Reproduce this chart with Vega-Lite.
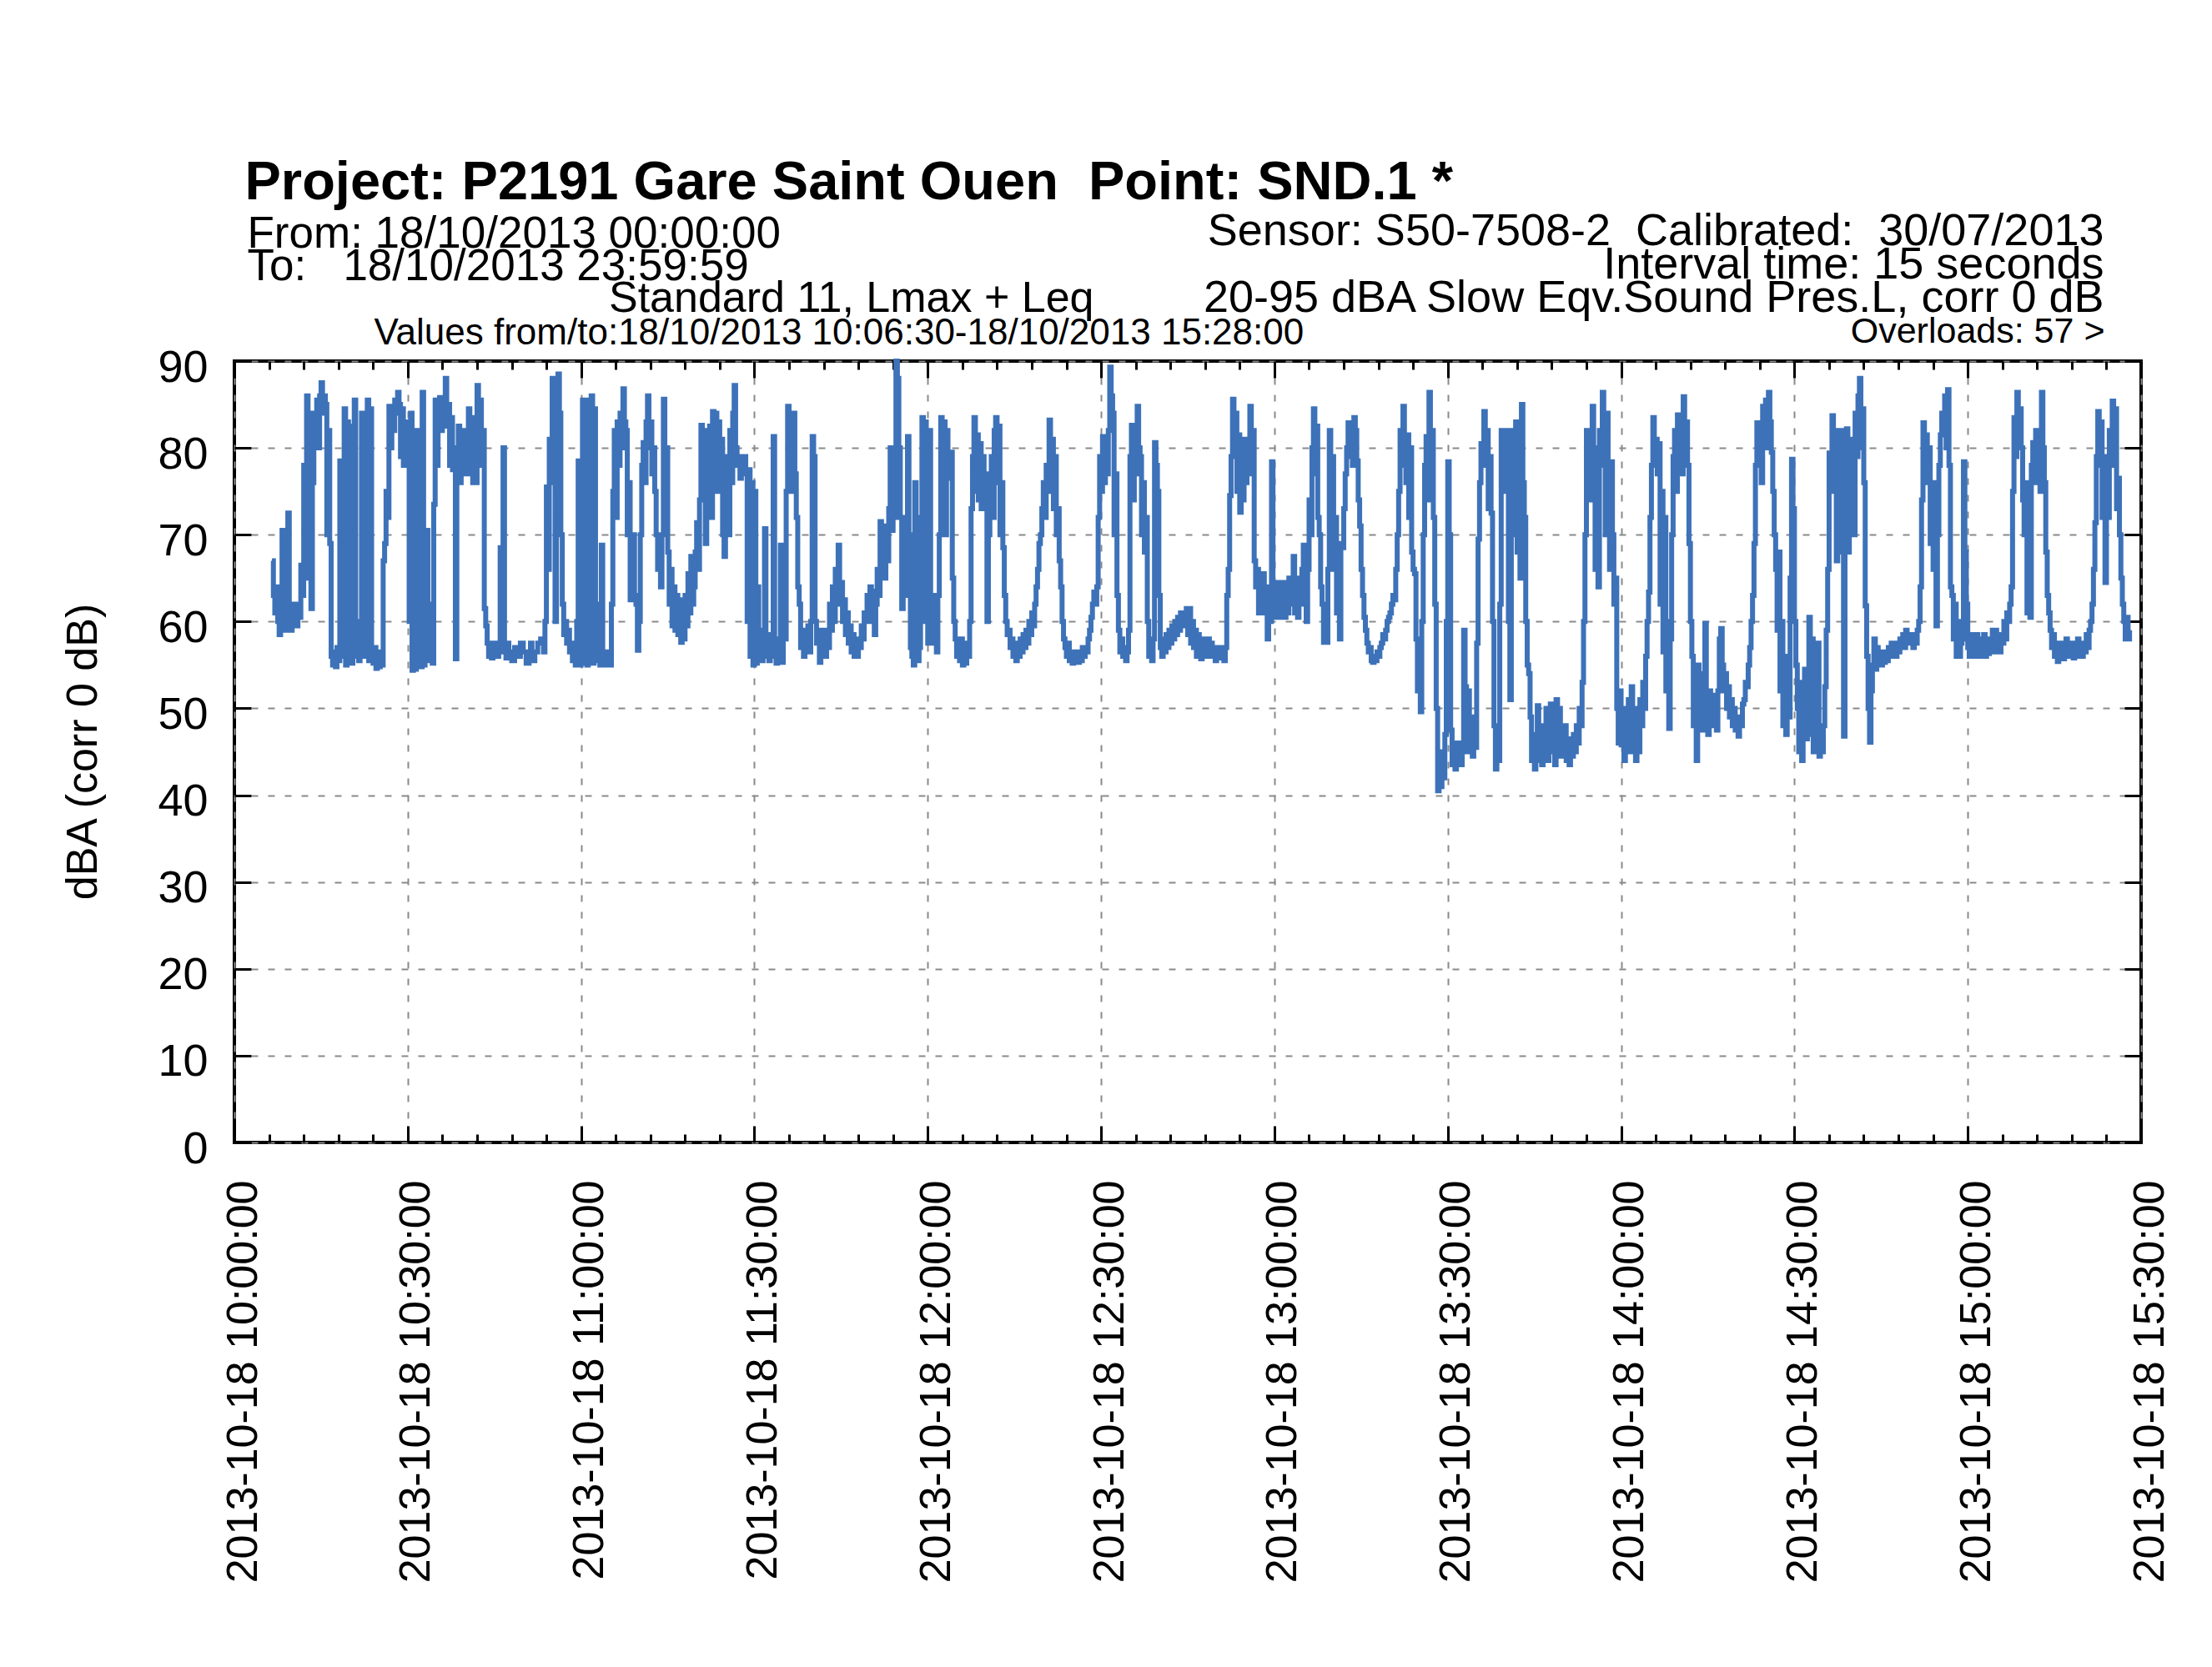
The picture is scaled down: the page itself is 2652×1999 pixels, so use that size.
{
"$schema":"https://vega.github.io/schema/vega-lite/v6.json",
"width":2286,"height":937,
"autosize":{"type":"none"},
"padding":{"left":281,"top":433,"right":85,"bottom":629},
"background":"white",
"config":{"font":"Liberation Sans","view":{"stroke":"#000","strokeWidth":4},
"axis":{"labelColor":"#000","titleColor":"#000","tickColor":"#000","tickWidth":3,"labelLimit":4000,"titleLimit":4000,"titleFont":"Liberation Sans","labelFont":"Liberation Sans","titleFontWeight":"normal"}},
"resolve":{"scale":{"x":"independent","y":"independent"},"axis":{"x":"independent","y":"independent"}},
"layer":[
{"data":{"values":[
{"t":"2013-10-18T10:06:30","v":67},{"t":"2013-10-18T10:06:45","v":63},{"t":"2013-10-18T10:07:00","v":61},{"t":"2013-10-18T10:07:15","v":64},{"t":"2013-10-18T10:07:30","v":60},{"t":"2013-10-18T10:07:45","v":58.5},{"t":"2013-10-18T10:08:00","v":62},{"t":"2013-10-18T10:08:15","v":70.5},{"t":"2013-10-18T10:08:30","v":60},{"t":"2013-10-18T10:08:45","v":59},{"t":"2013-10-18T10:09:00","v":63},{"t":"2013-10-18T10:09:15","v":72.5},{"t":"2013-10-18T10:09:30","v":61},{"t":"2013-10-18T10:09:45","v":59},{"t":"2013-10-18T10:10:00","v":62},{"t":"2013-10-18T10:10:15","v":60},{"t":"2013-10-18T10:10:30","v":61.5},{"t":"2013-10-18T10:10:45","v":59.5},{"t":"2013-10-18T10:11:00","v":62},{"t":"2013-10-18T10:11:15","v":60.5},{"t":"2013-10-18T10:11:30","v":66.5},{"t":"2013-10-18T10:11:45","v":63},{"t":"2013-10-18T10:12:00","v":78},{"t":"2013-10-18T10:12:15","v":65},{"t":"2013-10-18T10:12:30","v":86},{"t":"2013-10-18T10:12:45","v":79},{"t":"2013-10-18T10:13:00","v":84},{"t":"2013-10-18T10:13:15","v":61.5},{"t":"2013-10-18T10:13:30","v":76},{"t":"2013-10-18T10:13:45","v":84},{"t":"2013-10-18T10:14:00","v":82},{"t":"2013-10-18T10:14:15","v":85.5},{"t":"2013-10-18T10:14:30","v":80},{"t":"2013-10-18T10:14:45","v":86},{"t":"2013-10-18T10:15:00","v":87.5},{"t":"2013-10-18T10:15:15","v":84},{"t":"2013-10-18T10:15:30","v":86},{"t":"2013-10-18T10:15:45","v":85},{"t":"2013-10-18T10:16:00","v":70},{"t":"2013-10-18T10:16:15","v":82},{"t":"2013-10-18T10:16:30","v":69},{"t":"2013-10-18T10:16:45","v":56},{"t":"2013-10-18T10:17:00","v":55},{"t":"2013-10-18T10:17:15","v":56.5},{"t":"2013-10-18T10:17:30","v":54.8},{"t":"2013-10-18T10:17:45","v":57},{"t":"2013-10-18T10:18:00","v":55.5},{"t":"2013-10-18T10:18:15","v":78.5},{"t":"2013-10-18T10:18:30","v":56},{"t":"2013-10-18T10:18:45","v":61},{"t":"2013-10-18T10:19:00","v":84.5},{"t":"2013-10-18T10:19:15","v":55},{"t":"2013-10-18T10:19:30","v":83},{"t":"2013-10-18T10:19:45","v":56.5},{"t":"2013-10-18T10:20:00","v":82.5},{"t":"2013-10-18T10:20:15","v":55.2},{"t":"2013-10-18T10:20:30","v":59},{"t":"2013-10-18T10:20:45","v":85.5},{"t":"2013-10-18T10:21:00","v":60},{"t":"2013-10-18T10:21:15","v":56},{"t":"2013-10-18T10:21:30","v":55.5},{"t":"2013-10-18T10:21:45","v":57},{"t":"2013-10-18T10:22:00","v":84},{"t":"2013-10-18T10:22:15","v":56},{"t":"2013-10-18T10:22:30","v":83.5},{"t":"2013-10-18T10:22:45","v":58},{"t":"2013-10-18T10:23:00","v":85.5},{"t":"2013-10-18T10:23:15","v":55.5},{"t":"2013-10-18T10:23:30","v":84.5},{"t":"2013-10-18T10:23:45","v":56},{"t":"2013-10-18T10:24:00","v":55.2},{"t":"2013-10-18T10:24:15","v":57},{"t":"2013-10-18T10:24:30","v":54.6},{"t":"2013-10-18T10:24:45","v":56},{"t":"2013-10-18T10:25:00","v":54.8},{"t":"2013-10-18T10:25:15","v":56.5},{"t":"2013-10-18T10:25:30","v":55},{"t":"2013-10-18T10:25:45","v":67},{"t":"2013-10-18T10:26:00","v":69},{"t":"2013-10-18T10:26:15","v":75},{"t":"2013-10-18T10:26:30","v":72},{"t":"2013-10-18T10:26:45","v":84.8},{"t":"2013-10-18T10:27:00","v":80},{"t":"2013-10-18T10:27:15","v":84.5},{"t":"2013-10-18T10:27:30","v":82},{"t":"2013-10-18T10:27:45","v":85.5},{"t":"2013-10-18T10:28:00","v":84},{"t":"2013-10-18T10:28:15","v":86.4},{"t":"2013-10-18T10:28:30","v":85},{"t":"2013-10-18T10:28:45","v":79},{"t":"2013-10-18T10:29:00","v":84.5},{"t":"2013-10-18T10:29:15","v":78},{"t":"2013-10-18T10:29:30","v":83},{"t":"2013-10-18T10:29:45","v":78.5},{"t":"2013-10-18T10:30:00","v":79},{"t":"2013-10-18T10:30:15","v":60},{"t":"2013-10-18T10:30:30","v":84},{"t":"2013-10-18T10:30:45","v":54.4},{"t":"2013-10-18T10:31:00","v":56},{"t":"2013-10-18T10:31:15","v":54.5},{"t":"2013-10-18T10:31:30","v":82},{"t":"2013-10-18T10:31:45","v":55.5},{"t":"2013-10-18T10:32:00","v":56.5},{"t":"2013-10-18T10:32:15","v":54.8},{"t":"2013-10-18T10:32:30","v":86.4},{"t":"2013-10-18T10:32:45","v":55},{"t":"2013-10-18T10:33:00","v":57},{"t":"2013-10-18T10:33:15","v":70.5},{"t":"2013-10-18T10:33:30","v":55.5},{"t":"2013-10-18T10:33:45","v":62},{"t":"2013-10-18T10:34:00","v":59.5},{"t":"2013-10-18T10:34:15","v":55.2},{"t":"2013-10-18T10:34:30","v":73.5},{"t":"2013-10-18T10:34:45","v":85.5},{"t":"2013-10-18T10:35:00","v":78},{"t":"2013-10-18T10:35:15","v":84.5},{"t":"2013-10-18T10:35:30","v":85.8},{"t":"2013-10-18T10:35:45","v":82},{"t":"2013-10-18T10:36:00","v":85},{"t":"2013-10-18T10:36:15","v":82.5},{"t":"2013-10-18T10:36:30","v":88},{"t":"2013-10-18T10:36:45","v":84},{"t":"2013-10-18T10:37:00","v":85},{"t":"2013-10-18T10:37:15","v":78},{"t":"2013-10-18T10:37:30","v":83.5},{"t":"2013-10-18T10:37:45","v":77.5},{"t":"2013-10-18T10:38:00","v":80},{"t":"2013-10-18T10:38:15","v":55.7},{"t":"2013-10-18T10:38:30","v":77},{"t":"2013-10-18T10:38:45","v":82.5},{"t":"2013-10-18T10:39:00","v":76},{"t":"2013-10-18T10:39:15","v":80.5},{"t":"2013-10-18T10:39:30","v":78},{"t":"2013-10-18T10:39:45","v":82},{"t":"2013-10-18T10:40:00","v":77},{"t":"2013-10-18T10:40:15","v":79},{"t":"2013-10-18T10:40:30","v":84.5},{"t":"2013-10-18T10:40:45","v":77},{"t":"2013-10-18T10:41:00","v":83.5},{"t":"2013-10-18T10:41:15","v":76},{"t":"2013-10-18T10:41:30","v":79},{"t":"2013-10-18T10:41:45","v":76},{"t":"2013-10-18T10:42:00","v":87.2},{"t":"2013-10-18T10:42:15","v":78},{"t":"2013-10-18T10:42:30","v":85.5},{"t":"2013-10-18T10:42:45","v":79},{"t":"2013-10-18T10:43:00","v":82},{"t":"2013-10-18T10:43:15","v":61.5},{"t":"2013-10-18T10:43:30","v":59.5},{"t":"2013-10-18T10:43:45","v":57.5},{"t":"2013-10-18T10:44:00","v":56},{"t":"2013-10-18T10:44:15","v":57.5},{"t":"2013-10-18T10:44:30","v":55.8},{"t":"2013-10-18T10:44:45","v":57},{"t":"2013-10-18T10:45:00","v":56},{"t":"2013-10-18T10:45:15","v":57.5},{"t":"2013-10-18T10:45:30","v":56},{"t":"2013-10-18T10:45:45","v":57},{"t":"2013-10-18T10:46:00","v":68.5},{"t":"2013-10-18T10:46:15","v":56.5},{"t":"2013-10-18T10:46:30","v":80},{"t":"2013-10-18T10:46:45","v":57},{"t":"2013-10-18T10:47:00","v":55.8},{"t":"2013-10-18T10:47:15","v":57.5},{"t":"2013-10-18T10:47:30","v":56.5},{"t":"2013-10-18T10:48:00","v":55.5},{"t":"2013-10-18T10:48:30","v":57},{"t":"2013-10-18T10:49:00","v":56},{"t":"2013-10-18T10:49:30","v":57.5},{"t":"2013-10-18T10:50:00","v":56.5},{"t":"2013-10-18T10:50:30","v":55.2},{"t":"2013-10-18T10:51:00","v":56},{"t":"2013-10-18T10:51:15","v":57.5},{"t":"2013-10-18T10:51:30","v":55.5},{"t":"2013-10-18T10:52:00","v":56.5},{"t":"2013-10-18T10:52:30","v":57.5},{"t":"2013-10-18T10:53:00","v":58},{"t":"2013-10-18T10:53:30","v":56.5},{"t":"2013-10-18T10:53:45","v":60},{"t":"2013-10-18T10:54:00","v":75.5},{"t":"2013-10-18T10:54:15","v":66},{"t":"2013-10-18T10:54:30","v":81},{"t":"2013-10-18T10:54:45","v":76},{"t":"2013-10-18T10:55:00","v":88},
{"t":"2013-10-18T10:55:15","v":83},{"t":"2013-10-18T10:55:30","v":60},{"t":"2013-10-18T10:55:45","v":86},{"t":"2013-10-18T10:56:00","v":88.5},{"t":"2013-10-18T10:56:15","v":84},{"t":"2013-10-18T10:56:30","v":70},{"t":"2013-10-18T10:56:45","v":62},{"t":"2013-10-18T10:57:00","v":58.5},{"t":"2013-10-18T10:57:15","v":60},{"t":"2013-10-18T10:57:30","v":57.5},{"t":"2013-10-18T10:57:45","v":59},{"t":"2013-10-18T10:58:00","v":56.5},{"t":"2013-10-18T10:58:15","v":57.5},{"t":"2013-10-18T10:58:30","v":55.5},{"t":"2013-10-18T10:58:45","v":56.5},{"t":"2013-10-18T10:59:00","v":55},{"t":"2013-10-18T10:59:15","v":60},{"t":"2013-10-18T10:59:30","v":78.5},{"t":"2013-10-18T10:59:45","v":55},{"t":"2013-10-18T11:00:00","v":75},{"t":"2013-10-18T11:00:15","v":85.5},{"t":"2013-10-18T11:00:30","v":55.2},{"t":"2013-10-18T11:00:45","v":84},{"t":"2013-10-18T11:01:00","v":55},{"t":"2013-10-18T11:01:15","v":85.5},{"t":"2013-10-18T11:01:30","v":56},{"t":"2013-10-18T11:01:45","v":86},{"t":"2013-10-18T11:02:00","v":55.2},{"t":"2013-10-18T11:02:15","v":84.5},{"t":"2013-10-18T11:02:30","v":62},{"t":"2013-10-18T11:02:45","v":55.5},{"t":"2013-10-18T11:03:00","v":62},{"t":"2013-10-18T11:03:15","v":55},{"t":"2013-10-18T11:03:30","v":68.8},{"t":"2013-10-18T11:03:45","v":56},{"t":"2013-10-18T11:04:00","v":55},{"t":"2013-10-18T11:04:15","v":56.5},{"t":"2013-10-18T11:04:30","v":55.2},{"t":"2013-10-18T11:04:45","v":56},{"t":"2013-10-18T11:05:00","v":55},{"t":"2013-10-18T11:05:15","v":62},{"t":"2013-10-18T11:05:30","v":75},{"t":"2013-10-18T11:05:45","v":82},{"t":"2013-10-18T11:06:00","v":72},{"t":"2013-10-18T11:06:15","v":83},{"t":"2013-10-18T11:06:30","v":78},{"t":"2013-10-18T11:06:45","v":84},{"t":"2013-10-18T11:07:00","v":80},{"t":"2013-10-18T11:07:15","v":86.8},{"t":"2013-10-18T11:07:30","v":83},{"t":"2013-10-18T11:07:45","v":82},{"t":"2013-10-18T11:08:00","v":70},{"t":"2013-10-18T11:08:15","v":76},{"t":"2013-10-18T11:08:30","v":62.5},{"t":"2013-10-18T11:08:45","v":68},{"t":"2013-10-18T11:09:00","v":70},{"t":"2013-10-18T11:09:15","v":63},{"t":"2013-10-18T11:09:30","v":62},{"t":"2013-10-18T11:09:45","v":56.7},{"t":"2013-10-18T11:10:00","v":60},{"t":"2013-10-18T11:10:15","v":70},{"t":"2013-10-18T11:10:30","v":78},{"t":"2013-10-18T11:10:45","v":80.6},{"t":"2013-10-18T11:11:00","v":76},{"t":"2013-10-18T11:11:15","v":83},{"t":"2013-10-18T11:11:30","v":86},{"t":"2013-10-18T11:11:45","v":80},{"t":"2013-10-18T11:12:00","v":83},{"t":"2013-10-18T11:12:15","v":77},{"t":"2013-10-18T11:12:30","v":80},{"t":"2013-10-18T11:12:45","v":75},{"t":"2013-10-18T11:13:00","v":70},{"t":"2013-10-18T11:13:15","v":66},{"t":"2013-10-18T11:13:30","v":69},{"t":"2013-10-18T11:13:45","v":64},{"t":"2013-10-18T11:14:00","v":70},{"t":"2013-10-18T11:14:15","v":85.6},{"t":"2013-10-18T11:14:30","v":77},{"t":"2013-10-18T11:14:45","v":80},{"t":"2013-10-18T11:15:00","v":68},{"t":"2013-10-18T11:15:15","v":62},{"t":"2013-10-18T11:15:30","v":66},{"t":"2013-10-18T11:15:45","v":59.5},{"t":"2013-10-18T11:16:00","v":64},{"t":"2013-10-18T11:16:15","v":59},{"t":"2013-10-18T11:16:30","v":63},{"t":"2013-10-18T11:16:45","v":58.5},{"t":"2013-10-18T11:17:00","v":62.5},{"t":"2013-10-18T11:17:15","v":57.6},{"t":"2013-10-18T11:17:30","v":62},{"t":"2013-10-18T11:17:45","v":58},{"t":"2013-10-18T11:18:00","v":63},{"t":"2013-10-18T11:18:15","v":59.5},{"t":"2013-10-18T11:18:30","v":65.5},{"t":"2013-10-18T11:18:45","v":61},{"t":"2013-10-18T11:19:00","v":67.5},{"t":"2013-10-18T11:19:15","v":62},{"t":"2013-10-18T11:19:30","v":64},{"t":"2013-10-18T11:19:45","v":68},{"t":"2013-10-18T11:20:00","v":71.4},{"t":"2013-10-18T11:20:15","v":66},{"t":"2013-10-18T11:20:30","v":74},{"t":"2013-10-18T11:20:45","v":82.6},{"t":"2013-10-18T11:21:00","v":74},{"t":"2013-10-18T11:21:15","v":82},{"t":"2013-10-18T11:21:30","v":69},{"t":"2013-10-18T11:21:45","v":80},{"t":"2013-10-18T11:22:00","v":75},{"t":"2013-10-18T11:22:15","v":82.5},{"t":"2013-10-18T11:22:30","v":72},{"t":"2013-10-18T11:22:45","v":84.2},{"t":"2013-10-18T11:23:00","v":78},{"t":"2013-10-18T11:23:15","v":84},{"t":"2013-10-18T11:23:30","v":75},{"t":"2013-10-18T11:23:45","v":83},{"t":"2013-10-18T11:24:00","v":76},{"t":"2013-10-18T11:24:15","v":81},{"t":"2013-10-18T11:24:30","v":70},{"t":"2013-10-18T11:24:45","v":67.5},{"t":"2013-10-18T11:25:00","v":72},{"t":"2013-10-18T11:25:15","v":79},{"t":"2013-10-18T11:25:30","v":70},{"t":"2013-10-18T11:25:45","v":82},{"t":"2013-10-18T11:26:00","v":76},{"t":"2013-10-18T11:26:15","v":84},{"t":"2013-10-18T11:26:30","v":87.2},{"t":"2013-10-18T11:26:45","v":80},{"t":"2013-10-18T11:27:00","v":78},{"t":"2013-10-18T11:27:15","v":79},{"t":"2013-10-18T11:27:30","v":76.5},{"t":"2013-10-18T11:27:45","v":78.5},{"t":"2013-10-18T11:28:00","v":77},{"t":"2013-10-18T11:28:15","v":79},{"t":"2013-10-18T11:28:30","v":77},{"t":"2013-10-18T11:28:45","v":60},{"t":"2013-10-18T11:29:00","v":77.5},{"t":"2013-10-18T11:29:15","v":56},{"t":"2013-10-18T11:29:30","v":76},{"t":"2013-10-18T11:29:45","v":55},{"t":"2013-10-18T11:30:00","v":75},{"t":"2013-10-18T11:30:15","v":55.2},{"t":"2013-10-18T11:30:30","v":64},{"t":"2013-10-18T11:30:45","v":56},{"t":"2013-10-18T11:31:00","v":59},{"t":"2013-10-18T11:31:15","v":55.5},{"t":"2013-10-18T11:31:30","v":58},{"t":"2013-10-18T11:31:45","v":70.7},{"t":"2013-10-18T11:32:00","v":56},{"t":"2013-10-18T11:32:15","v":58.5},{"t":"2013-10-18T11:32:30","v":55.5},{"t":"2013-10-18T11:32:45","v":57.5},{"t":"2013-10-18T11:33:00","v":56},{"t":"2013-10-18T11:33:15","v":81.3},{"t":"2013-10-18T11:33:30","v":57},{"t":"2013-10-18T11:33:45","v":55.2},{"t":"2013-10-18T11:34:00","v":58},{"t":"2013-10-18T11:34:15","v":56},{"t":"2013-10-18T11:34:30","v":68.8},{"t":"2013-10-18T11:34:45","v":55.3},{"t":"2013-10-18T11:35:00","v":62},{"t":"2013-10-18T11:35:15","v":58},{"t":"2013-10-18T11:35:30","v":75},{"t":"2013-10-18T11:35:45","v":84.8},{"t":"2013-10-18T11:36:00","v":76},{"t":"2013-10-18T11:36:15","v":82},{"t":"2013-10-18T11:36:30","v":75},{"t":"2013-10-18T11:36:45","v":84},{"t":"2013-10-18T11:37:00","v":77},{"t":"2013-10-18T11:37:15","v":72},{"t":"2013-10-18T11:37:30","v":64},{"t":"2013-10-18T11:37:45","v":62},{"t":"2013-10-18T11:38:00","v":57},{"t":"2013-10-18T11:38:15","v":59},{"t":"2013-10-18T11:38:30","v":56},{"t":"2013-10-18T11:38:45","v":58},{"t":"2013-10-18T11:39:00","v":57},{"t":"2013-10-18T11:39:15","v":59.5},{"t":"2013-10-18T11:39:30","v":56.5},{"t":"2013-10-18T11:39:45","v":60},{"t":"2013-10-18T11:40:00","v":81.3},{"t":"2013-10-18T11:40:15","v":79},{"t":"2013-10-18T11:40:30","v":60},{"t":"2013-10-18T11:40:45","v":57.5},{"t":"2013-10-18T11:41:00","v":59},{"t":"2013-10-18T11:41:15","v":55.3},{"t":"2013-10-18T11:41:30","v":58.5},{"t":"2013-10-18T11:41:45","v":57},{"t":"2013-10-18T11:42:00","v":59},{"t":"2013-10-18T11:42:15","v":56},{"t":"2013-10-18T11:42:30","v":59},{"t":"2013-10-18T11:42:45","v":57},{"t":"2013-10-18T11:43:00","v":62},{"t":"2013-10-18T11:43:15","v":59},{"t":"2013-10-18T11:43:30","v":64},{"t":"2013-10-18T11:43:45","v":60},{"t":"2013-10-18T11:44:00","v":66},{"t":"2013-10-18T11:44:15","v":62},{"t":"2013-10-18T11:44:30","v":68.8},{"t":"2013-10-18T11:44:45","v":62},{"t":"2013-10-18T11:45:00","v":64.5},{"t":"2013-10-18T11:45:15","v":60},{"t":"2013-10-18T11:45:30","v":62.5},{"t":"2013-10-18T11:45:45","v":58.5},{"t":"2013-10-18T11:46:00","v":61},{"t":"2013-10-18T11:46:15","v":57.5},{"t":"2013-10-18T11:46:30","v":59.5},{"t":"2013-10-18T11:46:45","v":56.5},{"t":"2013-10-18T11:47:00","v":58.5},{"t":"2013-10-18T11:47:15","v":56},{"t":"2013-10-18T11:47:30","v":58},{"t":"2013-10-18T11:47:45","v":56},{"t":"2013-10-18T11:48:00","v":58},{"t":"2013-10-18T11:48:15","v":57},{"t":"2013-10-18T11:48:30","v":59.5},{"t":"2013-10-18T11:48:45","v":58},{"t":"2013-10-18T11:49:00","v":61},{"t":"2013-10-18T11:49:15","v":60},{"t":"2013-10-18T11:49:30","v":63},
{"t":"2013-10-18T11:49:45","v":61.5},{"t":"2013-10-18T11:50:00","v":64},{"t":"2013-10-18T11:50:15","v":60},{"t":"2013-10-18T11:50:30","v":63.5},{"t":"2013-10-18T11:50:45","v":58.5},{"t":"2013-10-18T11:51:00","v":62},{"t":"2013-10-18T11:51:15","v":66},{"t":"2013-10-18T11:51:30","v":63},{"t":"2013-10-18T11:51:45","v":71.5},{"t":"2013-10-18T11:52:00","v":66},{"t":"2013-10-18T11:52:15","v":70},{"t":"2013-10-18T11:52:30","v":65},{"t":"2013-10-18T11:52:45","v":71},{"t":"2013-10-18T11:53:00","v":67},{"t":"2013-10-18T11:53:15","v":73},{"t":"2013-10-18T11:53:30","v":80},{"t":"2013-10-18T11:53:45","v":70.5},{"t":"2013-10-18T11:54:00","v":79},{"t":"2013-10-18T11:54:15","v":72},{"t":"2013-10-18T11:54:30","v":90},{"t":"2013-10-18T11:54:45","v":88},{"t":"2013-10-18T11:55:00","v":80},{"t":"2013-10-18T11:55:15","v":72},{"t":"2013-10-18T11:55:30","v":61.5},{"t":"2013-10-18T11:55:45","v":70},{"t":"2013-10-18T11:56:00","v":63},{"t":"2013-10-18T11:56:15","v":72},{"t":"2013-10-18T11:56:30","v":81.3},{"t":"2013-10-18T11:56:45","v":70},{"t":"2013-10-18T11:57:00","v":57},{"t":"2013-10-18T11:57:15","v":56},{"t":"2013-10-18T11:57:30","v":55},{"t":"2013-10-18T11:57:45","v":76},{"t":"2013-10-18T11:58:00","v":58},{"t":"2013-10-18T11:58:15","v":55.5},{"t":"2013-10-18T11:58:30","v":57},{"t":"2013-10-18T11:58:45","v":72},{"t":"2013-10-18T11:59:00","v":83.5},{"t":"2013-10-18T11:59:15","v":60},{"t":"2013-10-18T11:59:30","v":83},{"t":"2013-10-18T11:59:45","v":73},{"t":"2013-10-18T12:00:00","v":57.5},{"t":"2013-10-18T12:00:15","v":82},{"t":"2013-10-18T12:00:30","v":60},{"t":"2013-10-18T12:00:45","v":63},{"t":"2013-10-18T12:01:00","v":57.5},{"t":"2013-10-18T12:01:15","v":60},{"t":"2013-10-18T12:01:30","v":56.5},{"t":"2013-10-18T12:01:45","v":63},{"t":"2013-10-18T12:02:00","v":70},{"t":"2013-10-18T12:02:15","v":83.5},{"t":"2013-10-18T12:02:30","v":75},{"t":"2013-10-18T12:02:45","v":83},{"t":"2013-10-18T12:03:00","v":70},{"t":"2013-10-18T12:03:15","v":82},{"t":"2013-10-18T12:03:30","v":77},{"t":"2013-10-18T12:03:45","v":76.5},{"t":"2013-10-18T12:04:00","v":79.5},{"t":"2013-10-18T12:04:15","v":65},{"t":"2013-10-18T12:04:30","v":60},{"t":"2013-10-18T12:04:45","v":58},{"t":"2013-10-18T12:05:00","v":56},{"t":"2013-10-18T12:05:15","v":57.5},{"t":"2013-10-18T12:05:30","v":55.5},{"t":"2013-10-18T12:05:45","v":58},{"t":"2013-10-18T12:06:00","v":55},{"t":"2013-10-18T12:06:15","v":57},{"t":"2013-10-18T12:06:30","v":55.2},{"t":"2013-10-18T12:06:45","v":57.5},{"t":"2013-10-18T12:07:00","v":56},{"t":"2013-10-18T12:07:15","v":60},{"t":"2013-10-18T12:07:30","v":73},{"t":"2013-10-18T12:07:45","v":79},{"t":"2013-10-18T12:08:00","v":83.5},{"t":"2013-10-18T12:08:15","v":75},{"t":"2013-10-18T12:08:30","v":81.5},{"t":"2013-10-18T12:08:45","v":74},{"t":"2013-10-18T12:09:00","v":80.5},{"t":"2013-10-18T12:09:15","v":73},{"t":"2013-10-18T12:09:30","v":79},{"t":"2013-10-18T12:09:45","v":74},{"t":"2013-10-18T12:10:00","v":77},{"t":"2013-10-18T12:10:15","v":60},{"t":"2013-10-18T12:10:30","v":70},{"t":"2013-10-18T12:10:45","v":76},{"t":"2013-10-18T12:11:00","v":79},{"t":"2013-10-18T12:11:15","v":72},{"t":"2013-10-18T12:11:30","v":82},{"t":"2013-10-18T12:11:45","v":83.5},{"t":"2013-10-18T12:12:00","v":76},{"t":"2013-10-18T12:12:15","v":82.5},{"t":"2013-10-18T12:12:30","v":70},{"t":"2013-10-18T12:12:45","v":76},{"t":"2013-10-18T12:13:00","v":68.5},{"t":"2013-10-18T12:13:15","v":63},{"t":"2013-10-18T12:13:30","v":60},{"t":"2013-10-18T12:13:45","v":58.5},{"t":"2013-10-18T12:14:00","v":59},{"t":"2013-10-18T12:14:15","v":57},{"t":"2013-10-18T12:14:30","v":58},{"t":"2013-10-18T12:14:45","v":56},{"t":"2013-10-18T12:15:00","v":57.5},{"t":"2013-10-18T12:15:15","v":55.5},{"t":"2013-10-18T12:15:30","v":57},{"t":"2013-10-18T12:15:45","v":56},{"t":"2013-10-18T12:16:00","v":58},{"t":"2013-10-18T12:16:15","v":56.5},{"t":"2013-10-18T12:16:30","v":58.5},{"t":"2013-10-18T12:16:45","v":57},{"t":"2013-10-18T12:17:00","v":59},{"t":"2013-10-18T12:17:15","v":57.5},{"t":"2013-10-18T12:17:30","v":60},{"t":"2013-10-18T12:17:45","v":58.5},{"t":"2013-10-18T12:18:00","v":61},{"t":"2013-10-18T12:18:15","v":59.5},{"t":"2013-10-18T12:18:30","v":62},{"t":"2013-10-18T12:18:45","v":64},{"t":"2013-10-18T12:19:00","v":66},{"t":"2013-10-18T12:19:15","v":69},{"t":"2013-10-18T12:19:30","v":70},{"t":"2013-10-18T12:19:45","v":73},{"t":"2013-10-18T12:20:00","v":76},{"t":"2013-10-18T12:20:15","v":72},{"t":"2013-10-18T12:20:30","v":78},{"t":"2013-10-18T12:20:45","v":75},{"t":"2013-10-18T12:21:00","v":83.2},{"t":"2013-10-18T12:21:15","v":78},{"t":"2013-10-18T12:21:30","v":81},{"t":"2013-10-18T12:21:45","v":73},{"t":"2013-10-18T12:22:00","v":79},{"t":"2013-10-18T12:22:15","v":70},{"t":"2013-10-18T12:22:30","v":73},{"t":"2013-10-18T12:22:45","v":67},{"t":"2013-10-18T12:23:00","v":64},{"t":"2013-10-18T12:23:15","v":60},{"t":"2013-10-18T12:23:30","v":58},{"t":"2013-10-18T12:23:45","v":57},{"t":"2013-10-18T12:24:00","v":56},{"t":"2013-10-18T12:24:15","v":57.5},{"t":"2013-10-18T12:24:30","v":55.5},{"t":"2013-10-18T12:24:45","v":56.5},{"t":"2013-10-18T12:25:00","v":55.2},{"t":"2013-10-18T12:25:15","v":56.5},{"t":"2013-10-18T12:25:30","v":55.5},{"t":"2013-10-18T12:25:45","v":56.5},{"t":"2013-10-18T12:26:00","v":55.3},{"t":"2013-10-18T12:26:15","v":56.5},{"t":"2013-10-18T12:26:30","v":55.5},{"t":"2013-10-18T12:26:45","v":57},{"t":"2013-10-18T12:27:00","v":56},{"t":"2013-10-18T12:27:15","v":57},{"t":"2013-10-18T12:27:30","v":56.5},{"t":"2013-10-18T12:27:45","v":58},{"t":"2013-10-18T12:28:00","v":59},{"t":"2013-10-18T12:28:15","v":60.5},{"t":"2013-10-18T12:28:30","v":62},{"t":"2013-10-18T12:28:45","v":63.4},{"t":"2013-10-18T12:29:00","v":62},{"t":"2013-10-18T12:29:15","v":64},{"t":"2013-10-18T12:29:30","v":72},{"t":"2013-10-18T12:29:45","v":79},{"t":"2013-10-18T12:30:00","v":75},{"t":"2013-10-18T12:30:15","v":81.3},{"t":"2013-10-18T12:30:30","v":76},{"t":"2013-10-18T12:30:45","v":80},{"t":"2013-10-18T12:31:00","v":77},{"t":"2013-10-18T12:31:15","v":82},{"t":"2013-10-18T12:31:30","v":89.3},{"t":"2013-10-18T12:31:45","v":86},{"t":"2013-10-18T12:32:00","v":84},{"t":"2013-10-18T12:32:15","v":70},{"t":"2013-10-18T12:32:30","v":77},{"t":"2013-10-18T12:32:45","v":63},{"t":"2013-10-18T12:33:00","v":59},{"t":"2013-10-18T12:33:15","v":56.5},{"t":"2013-10-18T12:33:30","v":58},{"t":"2013-10-18T12:33:45","v":56},{"t":"2013-10-18T12:34:00","v":57},{"t":"2013-10-18T12:34:15","v":55.5},{"t":"2013-10-18T12:34:30","v":56.5},{"t":"2013-10-18T12:34:45","v":59},{"t":"2013-10-18T12:35:00","v":79},{"t":"2013-10-18T12:35:15","v":82.6},{"t":"2013-10-18T12:35:30","v":74},{"t":"2013-10-18T12:35:45","v":80},{"t":"2013-10-18T12:36:00","v":77},{"t":"2013-10-18T12:36:15","v":84.8},{"t":"2013-10-18T12:36:30","v":80},{"t":"2013-10-18T12:36:45","v":79},{"t":"2013-10-18T12:37:00","v":70},{"t":"2013-10-18T12:37:15","v":76},{"t":"2013-10-18T12:37:30","v":68},{"t":"2013-10-18T12:37:45","v":72},{"t":"2013-10-18T12:38:00","v":60},{"t":"2013-10-18T12:38:15","v":56},{"t":"2013-10-18T12:38:30","v":57.5},{"t":"2013-10-18T12:38:45","v":55.5},{"t":"2013-10-18T12:39:00","v":58},{"t":"2013-10-18T12:39:15","v":80.6},{"t":"2013-10-18T12:39:30","v":78},{"t":"2013-10-18T12:39:45","v":75},{"t":"2013-10-18T12:40:00","v":63},{"t":"2013-10-18T12:40:15","v":57},{"t":"2013-10-18T12:40:30","v":56},{"t":"2013-10-18T12:40:45","v":58},{"t":"2013-10-18T12:41:00","v":56.5},{"t":"2013-10-18T12:41:15","v":58.5},{"t":"2013-10-18T12:41:30","v":57},{"t":"2013-10-18T12:41:45","v":59},{"t":"2013-10-18T12:42:00","v":57.5},{"t":"2013-10-18T12:42:15","v":59.5},{"t":"2013-10-18T12:42:30","v":58},{"t":"2013-10-18T12:42:45","v":60},{"t":"2013-10-18T12:43:00","v":58.5},{"t":"2013-10-18T12:43:15","v":60.5},{"t":"2013-10-18T12:43:30","v":59},{"t":"2013-10-18T12:43:45","v":61},{"t":"2013-10-18T12:44:00","v":59.5},
{"t":"2013-10-18T12:44:15","v":61},{"t":"2013-10-18T12:44:30","v":59.5},{"t":"2013-10-18T12:44:45","v":61.5},{"t":"2013-10-18T12:45:00","v":58.5},{"t":"2013-10-18T12:45:15","v":61.5},{"t":"2013-10-18T12:45:30","v":57.5},{"t":"2013-10-18T12:45:45","v":60},{"t":"2013-10-18T12:46:00","v":57},{"t":"2013-10-18T12:46:15","v":59},{"t":"2013-10-18T12:46:30","v":56},{"t":"2013-10-18T12:46:45","v":58.5},{"t":"2013-10-18T12:47:00","v":56.5},{"t":"2013-10-18T12:47:15","v":55.7},{"t":"2013-10-18T12:47:30","v":58},{"t":"2013-10-18T12:47:45","v":56},{"t":"2013-10-18T12:48:00","v":57.5},{"t":"2013-10-18T12:48:15","v":56},{"t":"2013-10-18T12:48:30","v":58},{"t":"2013-10-18T12:48:45","v":56.5},{"t":"2013-10-18T12:49:00","v":57.5},{"t":"2013-10-18T12:49:15","v":56},{"t":"2013-10-18T12:49:30","v":57},{"t":"2013-10-18T12:49:45","v":55.5},{"t":"2013-10-18T12:50:00","v":57},{"t":"2013-10-18T12:50:15","v":56},{"t":"2013-10-18T12:50:30","v":57},{"t":"2013-10-18T12:50:45","v":55.8},{"t":"2013-10-18T12:51:00","v":56.5},{"t":"2013-10-18T12:51:15","v":55.5},{"t":"2013-10-18T12:51:30","v":57},{"t":"2013-10-18T12:51:45","v":63},{"t":"2013-10-18T12:52:00","v":66},{"t":"2013-10-18T12:52:15","v":74.5},{"t":"2013-10-18T12:52:30","v":79},{"t":"2013-10-18T12:52:45","v":85.6},{"t":"2013-10-18T12:53:00","v":80},{"t":"2013-10-18T12:53:15","v":84},{"t":"2013-10-18T12:53:30","v":75},{"t":"2013-10-18T12:53:45","v":81.5},{"t":"2013-10-18T12:54:00","v":72.6},{"t":"2013-10-18T12:54:15","v":81},{"t":"2013-10-18T12:54:30","v":74},{"t":"2013-10-18T12:54:45","v":80.5},{"t":"2013-10-18T12:55:00","v":76},{"t":"2013-10-18T12:55:15","v":81},{"t":"2013-10-18T12:55:30","v":80},{"t":"2013-10-18T12:55:45","v":84.8},{"t":"2013-10-18T12:56:00","v":77},{"t":"2013-10-18T12:56:15","v":82},{"t":"2013-10-18T12:56:30","v":67},{"t":"2013-10-18T12:56:45","v":64},{"t":"2013-10-18T12:57:00","v":66},{"t":"2013-10-18T12:57:15","v":61},{"t":"2013-10-18T12:57:30","v":65},{"t":"2013-10-18T12:57:45","v":61.5},{"t":"2013-10-18T12:58:00","v":65.5},{"t":"2013-10-18T12:58:15","v":61},{"t":"2013-10-18T12:58:30","v":64},{"t":"2013-10-18T12:58:45","v":58},{"t":"2013-10-18T12:59:00","v":62},{"t":"2013-10-18T12:59:15","v":60},{"t":"2013-10-18T12:59:30","v":78.4},{"t":"2013-10-18T12:59:45","v":60.5},{"t":"2013-10-18T13:00:00","v":64},{"t":"2013-10-18T13:00:15","v":61},{"t":"2013-10-18T13:00:30","v":64.5},{"t":"2013-10-18T13:00:45","v":60.5},{"t":"2013-10-18T13:01:00","v":63.5},{"t":"2013-10-18T13:01:15","v":61},{"t":"2013-10-18T13:01:30","v":64.5},{"t":"2013-10-18T13:01:45","v":60.5},{"t":"2013-10-18T13:02:00","v":64},{"t":"2013-10-18T13:02:15","v":61},{"t":"2013-10-18T13:02:30","v":65},{"t":"2013-10-18T13:02:45","v":62},{"t":"2013-10-18T13:03:00","v":64},{"t":"2013-10-18T13:03:15","v":67.5},{"t":"2013-10-18T13:03:30","v":61},{"t":"2013-10-18T13:03:45","v":64},{"t":"2013-10-18T13:04:00","v":60.5},{"t":"2013-10-18T13:04:15","v":65},{"t":"2013-10-18T13:04:30","v":62},{"t":"2013-10-18T13:04:45","v":66},{"t":"2013-10-18T13:05:00","v":68.8},{"t":"2013-10-18T13:05:15","v":63},{"t":"2013-10-18T13:05:30","v":60},{"t":"2013-10-18T13:05:45","v":66},{"t":"2013-10-18T13:06:00","v":74},{"t":"2013-10-18T13:06:15","v":70},{"t":"2013-10-18T13:06:30","v":80},{"t":"2013-10-18T13:06:45","v":84.5},{"t":"2013-10-18T13:07:00","v":77},{"t":"2013-10-18T13:07:15","v":82.5},{"t":"2013-10-18T13:07:30","v":72},{"t":"2013-10-18T13:07:45","v":70},{"t":"2013-10-18T13:08:00","v":64},{"t":"2013-10-18T13:08:15","v":62},{"t":"2013-10-18T13:08:30","v":57.6},{"t":"2013-10-18T13:08:45","v":62},{"t":"2013-10-18T13:09:00","v":57.6},{"t":"2013-10-18T13:09:15","v":66},{"t":"2013-10-18T13:09:30","v":82},{"t":"2013-10-18T13:09:45","v":73},{"t":"2013-10-18T13:10:00","v":79},{"t":"2013-10-18T13:10:15","v":66},{"t":"2013-10-18T13:10:30","v":72},{"t":"2013-10-18T13:10:45","v":61},{"t":"2013-10-18T13:11:00","v":66},{"t":"2013-10-18T13:11:15","v":58},{"t":"2013-10-18T13:11:30","v":69},{"t":"2013-10-18T13:11:45","v":68.5},{"t":"2013-10-18T13:12:00","v":73},{"t":"2013-10-18T13:12:15","v":77},{"t":"2013-10-18T13:12:30","v":80},{"t":"2013-10-18T13:12:45","v":82.9},{"t":"2013-10-18T13:13:00","v":79},{"t":"2013-10-18T13:13:15","v":82.5},{"t":"2013-10-18T13:13:30","v":78},{"t":"2013-10-18T13:13:45","v":83.5},{"t":"2013-10-18T13:14:00","v":82},{"t":"2013-10-18T13:14:15","v":78.5},{"t":"2013-10-18T13:14:30","v":74},{"t":"2013-10-18T13:14:45","v":71},{"t":"2013-10-18T13:15:00","v":66},{"t":"2013-10-18T13:15:15","v":63},{"t":"2013-10-18T13:15:30","v":60.5},{"t":"2013-10-18T13:15:45","v":59},{"t":"2013-10-18T13:16:00","v":57.5},{"t":"2013-10-18T13:16:15","v":56.5},{"t":"2013-10-18T13:16:30","v":57},{"t":"2013-10-18T13:16:45","v":55.5},{"t":"2013-10-18T13:17:00","v":55.3},{"t":"2013-10-18T13:17:15","v":56},{"t":"2013-10-18T13:17:30","v":55.5},{"t":"2013-10-18T13:17:45","v":56.5},{"t":"2013-10-18T13:18:00","v":56},{"t":"2013-10-18T13:18:15","v":57},{"t":"2013-10-18T13:18:30","v":57.5},{"t":"2013-10-18T13:18:45","v":58.5},{"t":"2013-10-18T13:19:00","v":58},{"t":"2013-10-18T13:19:15","v":59},{"t":"2013-10-18T13:19:30","v":60},{"t":"2013-10-18T13:19:45","v":60.5},{"t":"2013-10-18T13:20:00","v":61},{"t":"2013-10-18T13:20:15","v":62},{"t":"2013-10-18T13:20:30","v":63},{"t":"2013-10-18T13:20:45","v":62.5},{"t":"2013-10-18T13:21:00","v":66},{"t":"2013-10-18T13:21:15","v":70},{"t":"2013-10-18T13:21:30","v":75},{"t":"2013-10-18T13:21:45","v":82},{"t":"2013-10-18T13:22:00","v":78},{"t":"2013-10-18T13:22:15","v":84.8},{"t":"2013-10-18T13:22:30","v":81},{"t":"2013-10-18T13:22:45","v":76},{"t":"2013-10-18T13:23:00","v":81.5},{"t":"2013-10-18T13:23:15","v":72},{"t":"2013-10-18T13:23:30","v":80},{"t":"2013-10-18T13:23:45","v":68},{"t":"2013-10-18T13:24:00","v":66},{"t":"2013-10-18T13:24:15","v":65.5},{"t":"2013-10-18T13:24:30","v":58},{"t":"2013-10-18T13:24:45","v":52},{"t":"2013-10-18T13:25:00","v":54},{"t":"2013-10-18T13:25:15","v":49.6},{"t":"2013-10-18T13:25:30","v":60},{"t":"2013-10-18T13:25:45","v":70},{"t":"2013-10-18T13:26:00","v":78},{"t":"2013-10-18T13:26:15","v":81.3},{"t":"2013-10-18T13:26:30","v":74},{"t":"2013-10-18T13:26:45","v":86.4},{"t":"2013-10-18T13:27:00","v":76},{"t":"2013-10-18T13:27:15","v":82},{"t":"2013-10-18T13:27:30","v":72},{"t":"2013-10-18T13:27:45","v":62},{"t":"2013-10-18T13:28:00","v":50},{"t":"2013-10-18T13:28:15","v":40.5},{"t":"2013-10-18T13:28:30","v":44},{"t":"2013-10-18T13:28:45","v":41},{"t":"2013-10-18T13:29:00","v":45},{"t":"2013-10-18T13:29:15","v":42},{"t":"2013-10-18T13:29:30","v":47},{"t":"2013-10-18T13:29:45","v":60},{"t":"2013-10-18T13:30:00","v":78.4},{"t":"2013-10-18T13:30:15","v":70},{"t":"2013-10-18T13:30:30","v":47.5},{"t":"2013-10-18T13:30:45","v":43.5},{"t":"2013-10-18T13:31:00","v":45.5},{"t":"2013-10-18T13:31:15","v":43},{"t":"2013-10-18T13:31:30","v":46},{"t":"2013-10-18T13:31:45","v":44},{"t":"2013-10-18T13:32:00","v":45.5},{"t":"2013-10-18T13:32:15","v":43.5},{"t":"2013-10-18T13:32:30","v":46},{"t":"2013-10-18T13:32:45","v":59},{"t":"2013-10-18T13:33:00","v":52.5},{"t":"2013-10-18T13:33:15","v":45},{"t":"2013-10-18T13:33:30","v":52},{"t":"2013-10-18T13:33:45","v":45.5},{"t":"2013-10-18T13:34:00","v":49},{"t":"2013-10-18T13:34:15","v":44.5},{"t":"2013-10-18T13:34:30","v":47.5},{"t":"2013-10-18T13:34:45","v":45.5},{"t":"2013-10-18T13:35:00","v":57.5},{"t":"2013-10-18T13:35:15","v":69.5},{"t":"2013-10-18T13:35:30","v":76},{"t":"2013-10-18T13:35:45","v":80.5},{"t":"2013-10-18T13:36:00","v":78},{"t":"2013-10-18T13:36:15","v":84.2},{"t":"2013-10-18T13:36:30","v":80},{"t":"2013-10-18T13:36:45","v":82},{"t":"2013-10-18T13:37:00","v":73},{"t":"2013-10-18T13:37:15","v":79},{"t":"2013-10-18T13:37:30","v":72.5},{"t":"2013-10-18T13:37:45","v":60},{"t":"2013-10-18T13:38:00","v":48},{"t":"2013-10-18T13:38:15","v":43},{"t":"2013-10-18T13:38:30","v":46},{"t":"2013-10-18T13:38:45","v":44},{"t":"2013-10-18T13:39:00","v":62},{"t":"2013-10-18T13:39:15","v":82},{"t":"2013-10-18T13:39:30","v":77},{"t":"2013-10-18T13:39:45","v":81},{"t":"2013-10-18T13:40:00","v":75},
{"t":"2013-10-18T13:40:15","v":82},{"t":"2013-10-18T13:40:30","v":60},{"t":"2013-10-18T13:40:45","v":51},{"t":"2013-10-18T13:41:00","v":70},{"t":"2013-10-18T13:41:15","v":82},{"t":"2013-10-18T13:41:30","v":76},{"t":"2013-10-18T13:41:45","v":83},{"t":"2013-10-18T13:42:00","v":68},{"t":"2013-10-18T13:42:15","v":82.5},{"t":"2013-10-18T13:42:30","v":65},{"t":"2013-10-18T13:42:45","v":85},{"t":"2013-10-18T13:43:00","v":76},{"t":"2013-10-18T13:43:15","v":72},{"t":"2013-10-18T13:43:30","v":60},{"t":"2013-10-18T13:43:45","v":55},{"t":"2013-10-18T13:44:00","v":54},{"t":"2013-10-18T13:44:15","v":49},{"t":"2013-10-18T13:44:30","v":44},{"t":"2013-10-18T13:44:45","v":47},{"t":"2013-10-18T13:45:00","v":43},{"t":"2013-10-18T13:45:15","v":46},{"t":"2013-10-18T13:45:30","v":50.3},{"t":"2013-10-18T13:45:45","v":44},{"t":"2013-10-18T13:46:00","v":48},{"t":"2013-10-18T13:46:15","v":43.5},{"t":"2013-10-18T13:46:30","v":47},{"t":"2013-10-18T13:46:45","v":45},{"t":"2013-10-18T13:47:00","v":50},{"t":"2013-10-18T13:47:15","v":44},{"t":"2013-10-18T13:47:30","v":48.5},{"t":"2013-10-18T13:47:45","v":50.5},{"t":"2013-10-18T13:48:00","v":45},{"t":"2013-10-18T13:48:15","v":49},{"t":"2013-10-18T13:48:30","v":43.5},{"t":"2013-10-18T13:48:45","v":51},{"t":"2013-10-18T13:49:00","v":46},{"t":"2013-10-18T13:49:15","v":50},{"t":"2013-10-18T13:49:30","v":44.5},{"t":"2013-10-18T13:49:45","v":47.5},{"t":"2013-10-18T13:50:00","v":45},{"t":"2013-10-18T13:50:15","v":48},{"t":"2013-10-18T13:50:30","v":44},{"t":"2013-10-18T13:50:45","v":46},{"t":"2013-10-18T13:51:00","v":43.5},{"t":"2013-10-18T13:51:15","v":46.5},{"t":"2013-10-18T13:51:30","v":44.5},{"t":"2013-10-18T13:51:45","v":47},{"t":"2013-10-18T13:52:00","v":45},{"t":"2013-10-18T13:52:15","v":48},{"t":"2013-10-18T13:52:30","v":46},{"t":"2013-10-18T13:52:45","v":50},{"t":"2013-10-18T13:53:00","v":48},{"t":"2013-10-18T13:53:15","v":53},{"t":"2013-10-18T13:53:30","v":60},{"t":"2013-10-18T13:53:45","v":70},{"t":"2013-10-18T13:54:00","v":82},{"t":"2013-10-18T13:54:15","v":76},{"t":"2013-10-18T13:54:30","v":80},{"t":"2013-10-18T13:54:45","v":74},{"t":"2013-10-18T13:55:00","v":84.8},{"t":"2013-10-18T13:55:15","v":76},{"t":"2013-10-18T13:55:30","v":66},{"t":"2013-10-18T13:55:45","v":80},{"t":"2013-10-18T13:56:00","v":64},{"t":"2013-10-18T13:56:15","v":82},{"t":"2013-10-18T13:56:30","v":78},{"t":"2013-10-18T13:56:45","v":86.4},{"t":"2013-10-18T13:57:00","v":84},{"t":"2013-10-18T13:57:15","v":70},{"t":"2013-10-18T13:57:30","v":84},{"t":"2013-10-18T13:57:45","v":73},{"t":"2013-10-18T13:58:00","v":66},{"t":"2013-10-18T13:58:15","v":78.4},{"t":"2013-10-18T13:58:30","v":70},{"t":"2013-10-18T13:58:45","v":62},{"t":"2013-10-18T13:59:00","v":65},{"t":"2013-10-18T13:59:15","v":50},{"t":"2013-10-18T13:59:30","v":46},{"t":"2013-10-18T13:59:45","v":52},{"t":"2013-10-18T14:00:00","v":45.8},{"t":"2013-10-18T14:00:15","v":50},{"t":"2013-10-18T14:00:30","v":44},{"t":"2013-10-18T14:00:45","v":49},{"t":"2013-10-18T14:01:00","v":45},{"t":"2013-10-18T14:01:15","v":51},{"t":"2013-10-18T14:01:30","v":47},{"t":"2013-10-18T14:01:45","v":52.5},{"t":"2013-10-18T14:02:00","v":45},{"t":"2013-10-18T14:02:15","v":50},{"t":"2013-10-18T14:02:30","v":44},{"t":"2013-10-18T14:02:45","v":48},{"t":"2013-10-18T14:03:00","v":45},{"t":"2013-10-18T14:03:15","v":51},{"t":"2013-10-18T14:03:30","v":48},{"t":"2013-10-18T14:03:45","v":53},{"t":"2013-10-18T14:04:00","v":50},{"t":"2013-10-18T14:04:15","v":56},{"t":"2013-10-18T14:04:30","v":60},{"t":"2013-10-18T14:04:45","v":63.4},{"t":"2013-10-18T14:05:00","v":72},{"t":"2013-10-18T14:05:15","v":78},{"t":"2013-10-18T14:05:30","v":83.5},{"t":"2013-10-18T14:05:45","v":79},{"t":"2013-10-18T14:06:00","v":81},{"t":"2013-10-18T14:06:15","v":77},{"t":"2013-10-18T14:06:30","v":80.5},{"t":"2013-10-18T14:06:45","v":62},{"t":"2013-10-18T14:07:00","v":75},{"t":"2013-10-18T14:07:15","v":56.5},{"t":"2013-10-18T14:07:30","v":72},{"t":"2013-10-18T14:07:45","v":52},{"t":"2013-10-18T14:08:00","v":60},{"t":"2013-10-18T14:08:15","v":47.7},{"t":"2013-10-18T14:08:30","v":58},{"t":"2013-10-18T14:08:45","v":70},{"t":"2013-10-18T14:09:00","v":79},{"t":"2013-10-18T14:09:15","v":82},{"t":"2013-10-18T14:09:30","v":75},{"t":"2013-10-18T14:09:45","v":83.8},{"t":"2013-10-18T14:10:00","v":79},{"t":"2013-10-18T14:10:15","v":82},{"t":"2013-10-18T14:10:30","v":77},{"t":"2013-10-18T14:10:45","v":85.9},{"t":"2013-10-18T14:11:00","v":80},{"t":"2013-10-18T14:11:15","v":83},{"t":"2013-10-18T14:11:30","v":78},{"t":"2013-10-18T14:11:45","v":69},{"t":"2013-10-18T14:12:00","v":60},{"t":"2013-10-18T14:12:15","v":56},{"t":"2013-10-18T14:12:30","v":48},{"t":"2013-10-18T14:12:45","v":53},{"t":"2013-10-18T14:13:00","v":44},{"t":"2013-10-18T14:13:15","v":55},{"t":"2013-10-18T14:13:30","v":49},{"t":"2013-10-18T14:13:45","v":54},{"t":"2013-10-18T14:14:00","v":47.5},{"t":"2013-10-18T14:14:15","v":53},{"t":"2013-10-18T14:14:30","v":59.8},{"t":"2013-10-18T14:14:45","v":51},{"t":"2013-10-18T14:15:00","v":47},{"t":"2013-10-18T14:15:15","v":52},{"t":"2013-10-18T14:15:30","v":48},{"t":"2013-10-18T14:15:45","v":51.5},{"t":"2013-10-18T14:16:00","v":48.5},{"t":"2013-10-18T14:16:15","v":51},{"t":"2013-10-18T14:16:30","v":47.5},{"t":"2013-10-18T14:16:45","v":52},{"t":"2013-10-18T14:17:00","v":58},{"t":"2013-10-18T14:17:15","v":59.2},{"t":"2013-10-18T14:17:30","v":55},{"t":"2013-10-18T14:17:45","v":52},{"t":"2013-10-18T14:18:00","v":54},{"t":"2013-10-18T14:18:15","v":50},{"t":"2013-10-18T14:18:30","v":52.5},{"t":"2013-10-18T14:18:45","v":49},{"t":"2013-10-18T14:19:00","v":51},{"t":"2013-10-18T14:19:15","v":48},{"t":"2013-10-18T14:19:30","v":50},{"t":"2013-10-18T14:19:45","v":47.5},{"t":"2013-10-18T14:20:00","v":48.5},{"t":"2013-10-18T14:20:15","v":46.8},{"t":"2013-10-18T14:20:30","v":49},{"t":"2013-10-18T14:20:45","v":48},{"t":"2013-10-18T14:21:00","v":50.5},{"t":"2013-10-18T14:21:15","v":51},{"t":"2013-10-18T14:21:30","v":53},{"t":"2013-10-18T14:21:45","v":52.5},{"t":"2013-10-18T14:22:00","v":55},{"t":"2013-10-18T14:22:15","v":57},{"t":"2013-10-18T14:22:30","v":60},{"t":"2013-10-18T14:22:45","v":63},{"t":"2013-10-18T14:23:00","v":69},{"t":"2013-10-18T14:23:15","v":78},{"t":"2013-10-18T14:23:30","v":82.9},{"t":"2013-10-18T14:23:45","v":79},{"t":"2013-10-18T14:24:00","v":82},{"t":"2013-10-18T14:24:15","v":76},{"t":"2013-10-18T14:24:30","v":84.8},{"t":"2013-10-18T14:24:45","v":81},{"t":"2013-10-18T14:25:00","v":85.5},{"t":"2013-10-18T14:25:15","v":80},{"t":"2013-10-18T14:25:30","v":86.4},{"t":"2013-10-18T14:25:45","v":83},{"t":"2013-10-18T14:26:00","v":79.5},{"t":"2013-10-18T14:26:15","v":75},{"t":"2013-10-18T14:26:30","v":70},{"t":"2013-10-18T14:26:45","v":66},{"t":"2013-10-18T14:27:00","v":59},{"t":"2013-10-18T14:27:15","v":68},{"t":"2013-10-18T14:27:30","v":52},{"t":"2013-10-18T14:27:45","v":60},{"t":"2013-10-18T14:28:00","v":48},{"t":"2013-10-18T14:28:15","v":56},{"t":"2013-10-18T14:28:30","v":47},{"t":"2013-10-18T14:28:45","v":55},{"t":"2013-10-18T14:29:00","v":49},{"t":"2013-10-18T14:29:15","v":65},{"t":"2013-10-18T14:29:30","v":78.7},{"t":"2013-10-18T14:29:45","v":73},{"t":"2013-10-18T14:30:00","v":60},{"t":"2013-10-18T14:30:15","v":55},{"t":"2013-10-18T14:30:30","v":50},{"t":"2013-10-18T14:30:45","v":45},{"t":"2013-10-18T14:31:00","v":53},{"t":"2013-10-18T14:31:15","v":44},{"t":"2013-10-18T14:31:30","v":48},{"t":"2013-10-18T14:31:45","v":54.5},{"t":"2013-10-18T14:32:00","v":46.5},{"t":"2013-10-18T14:32:15","v":53.5},{"t":"2013-10-18T14:32:30","v":60.5},{"t":"2013-10-18T14:32:45","v":47},{"t":"2013-10-18T14:33:00","v":58},{"t":"2013-10-18T14:33:15","v":45},{"t":"2013-10-18T14:33:30","v":56},{"t":"2013-10-18T14:33:45","v":46},{"t":"2013-10-18T14:34:00","v":57.5},
{"t":"2013-10-18T14:34:15","v":44.5},{"t":"2013-10-18T14:34:30","v":46},{"t":"2013-10-18T14:34:45","v":45},{"t":"2013-10-18T14:35:00","v":48},{"t":"2013-10-18T14:35:15","v":52.5},{"t":"2013-10-18T14:35:30","v":59},{"t":"2013-10-18T14:35:45","v":66},{"t":"2013-10-18T14:36:00","v":79.4},{"t":"2013-10-18T14:36:15","v":75},{"t":"2013-10-18T14:36:30","v":83.7},{"t":"2013-10-18T14:36:45","v":79},{"t":"2013-10-18T14:37:00","v":82},{"t":"2013-10-18T14:37:15","v":67},{"t":"2013-10-18T14:37:30","v":80},{"t":"2013-10-18T14:37:45","v":72},{"t":"2013-10-18T14:38:00","v":82},{"t":"2013-10-18T14:38:15","v":68},{"t":"2013-10-18T14:38:30","v":46.8},{"t":"2013-10-18T14:38:45","v":70},{"t":"2013-10-18T14:39:00","v":82.2},{"t":"2013-10-18T14:39:15","v":68},{"t":"2013-10-18T14:39:30","v":81},{"t":"2013-10-18T14:39:45","v":72},{"t":"2013-10-18T14:40:00","v":80},{"t":"2013-10-18T14:40:15","v":70},{"t":"2013-10-18T14:40:30","v":84},{"t":"2013-10-18T14:40:45","v":79},{"t":"2013-10-18T14:41:00","v":86},{"t":"2013-10-18T14:41:15","v":88},{"t":"2013-10-18T14:41:30","v":80},{"t":"2013-10-18T14:41:45","v":84.5},{"t":"2013-10-18T14:42:00","v":76},{"t":"2013-10-18T14:42:15","v":61.8},{"t":"2013-10-18T14:42:30","v":56},{"t":"2013-10-18T14:42:45","v":50},{"t":"2013-10-18T14:43:00","v":46.1},{"t":"2013-10-18T14:43:15","v":52},{"t":"2013-10-18T14:43:30","v":55},{"t":"2013-10-18T14:43:45","v":58},{"t":"2013-10-18T14:44:00","v":54.5},{"t":"2013-10-18T14:44:15","v":57},{"t":"2013-10-18T14:44:30","v":55},{"t":"2013-10-18T14:44:45","v":56.5},{"t":"2013-10-18T14:45:00","v":55},{"t":"2013-10-18T14:45:15","v":56},{"t":"2013-10-18T14:45:30","v":55.3},{"t":"2013-10-18T14:45:45","v":56.5},{"t":"2013-10-18T14:46:00","v":55.5},{"t":"2013-10-18T14:46:15","v":57},{"t":"2013-10-18T14:46:30","v":56},{"t":"2013-10-18T14:46:45","v":57.5},{"t":"2013-10-18T14:47:00","v":56.5},{"t":"2013-10-18T14:47:15","v":57},{"t":"2013-10-18T14:47:30","v":56},{"t":"2013-10-18T14:47:45","v":57.5},{"t":"2013-10-18T14:48:00","v":56.5},{"t":"2013-10-18T14:48:15","v":58},{"t":"2013-10-18T14:48:30","v":57},{"t":"2013-10-18T14:48:45","v":58.5},{"t":"2013-10-18T14:49:00","v":57},{"t":"2013-10-18T14:49:15","v":59},{"t":"2013-10-18T14:49:30","v":57.5},{"t":"2013-10-18T14:49:45","v":58.5},{"t":"2013-10-18T14:50:00","v":57.5},{"t":"2013-10-18T14:50:15","v":58.5},{"t":"2013-10-18T14:50:30","v":57},{"t":"2013-10-18T14:50:45","v":58.5},{"t":"2013-10-18T14:51:00","v":57.5},{"t":"2013-10-18T14:51:15","v":59},{"t":"2013-10-18T14:51:30","v":60},{"t":"2013-10-18T14:51:45","v":64},{"t":"2013-10-18T14:52:00","v":74},{"t":"2013-10-18T14:52:15","v":82.9},{"t":"2013-10-18T14:52:30","v":78},{"t":"2013-10-18T14:52:45","v":81.5},{"t":"2013-10-18T14:53:00","v":76},{"t":"2013-10-18T14:53:15","v":80},{"t":"2013-10-18T14:53:30","v":69},{"t":"2013-10-18T14:53:45","v":75.5},{"t":"2013-10-18T14:54:00","v":66},{"t":"2013-10-18T14:54:15","v":76},{"t":"2013-10-18T14:54:30","v":59.5},{"t":"2013-10-18T14:54:45","v":70},{"t":"2013-10-18T14:55:00","v":78},{"t":"2013-10-18T14:55:15","v":81.5},{"t":"2013-10-18T14:55:30","v":84},{"t":"2013-10-18T14:55:45","v":83},{"t":"2013-10-18T14:56:00","v":86},{"t":"2013-10-18T14:56:15","v":80},{"t":"2013-10-18T14:56:30","v":86.7},{"t":"2013-10-18T14:56:45","v":78},{"t":"2013-10-18T14:57:00","v":64},{"t":"2013-10-18T14:57:15","v":63},{"t":"2013-10-18T14:57:30","v":58},{"t":"2013-10-18T14:57:45","v":62},{"t":"2013-10-18T14:58:00","v":56},{"t":"2013-10-18T14:58:15","v":60},{"t":"2013-10-18T14:58:30","v":56},{"t":"2013-10-18T14:58:45","v":57.5},{"t":"2013-10-18T14:59:00","v":58},{"t":"2013-10-18T14:59:15","v":78.4},{"t":"2013-10-18T14:59:30","v":68},{"t":"2013-10-18T14:59:45","v":62},{"t":"2013-10-18T15:00:00","v":57},{"t":"2013-10-18T15:00:15","v":56},{"t":"2013-10-18T15:00:30","v":58.5},{"t":"2013-10-18T15:00:45","v":56.5},{"t":"2013-10-18T15:01:00","v":58},{"t":"2013-10-18T15:01:15","v":56},{"t":"2013-10-18T15:01:30","v":58.5},{"t":"2013-10-18T15:01:45","v":57},{"t":"2013-10-18T15:02:00","v":56},{"t":"2013-10-18T15:02:15","v":58},{"t":"2013-10-18T15:02:30","v":56.5},{"t":"2013-10-18T15:02:45","v":58.5},{"t":"2013-10-18T15:03:00","v":56},{"t":"2013-10-18T15:03:15","v":57.5},{"t":"2013-10-18T15:03:30","v":56.3},{"t":"2013-10-18T15:03:45","v":58},{"t":"2013-10-18T15:04:00","v":57},{"t":"2013-10-18T15:04:15","v":59},{"t":"2013-10-18T15:04:30","v":56.5},{"t":"2013-10-18T15:04:45","v":59},{"t":"2013-10-18T15:05:00","v":57},{"t":"2013-10-18T15:05:15","v":58},{"t":"2013-10-18T15:05:30","v":56.5},{"t":"2013-10-18T15:05:45","v":58.5},{"t":"2013-10-18T15:06:00","v":57.5},{"t":"2013-10-18T15:06:15","v":60},{"t":"2013-10-18T15:06:30","v":58},{"t":"2013-10-18T15:06:45","v":61},{"t":"2013-10-18T15:07:00","v":60},{"t":"2013-10-18T15:07:15","v":62},{"t":"2013-10-18T15:07:30","v":64},{"t":"2013-10-18T15:07:45","v":75},{"t":"2013-10-18T15:08:00","v":83.5},{"t":"2013-10-18T15:08:15","v":79},{"t":"2013-10-18T15:08:30","v":86.4},{"t":"2013-10-18T15:08:45","v":82},{"t":"2013-10-18T15:09:00","v":84.5},{"t":"2013-10-18T15:09:15","v":80},{"t":"2013-10-18T15:09:30","v":74},{"t":"2013-10-18T15:09:45","v":70},{"t":"2013-10-18T15:10:00","v":76},{"t":"2013-10-18T15:10:15","v":61},{"t":"2013-10-18T15:10:30","v":70},{"t":"2013-10-18T15:10:45","v":60.5},{"t":"2013-10-18T15:11:00","v":78},{"t":"2013-10-18T15:11:15","v":80.6},{"t":"2013-10-18T15:11:30","v":76},{"t":"2013-10-18T15:11:45","v":82},{"t":"2013-10-18T15:12:00","v":78},{"t":"2013-10-18T15:12:15","v":80},{"t":"2013-10-18T15:12:30","v":75},{"t":"2013-10-18T15:12:45","v":86.4},{"t":"2013-10-18T15:13:00","v":80},{"t":"2013-10-18T15:13:15","v":76},{"t":"2013-10-18T15:13:30","v":68},{"t":"2013-10-18T15:13:45","v":63},{"t":"2013-10-18T15:14:00","v":61},{"t":"2013-10-18T15:14:15","v":59},{"t":"2013-10-18T15:14:30","v":57},{"t":"2013-10-18T15:14:45","v":58.5},{"t":"2013-10-18T15:15:00","v":56},{"t":"2013-10-18T15:15:15","v":57.5},{"t":"2013-10-18T15:15:30","v":55.4},{"t":"2013-10-18T15:15:45","v":57},{"t":"2013-10-18T15:16:00","v":56},{"t":"2013-10-18T15:16:15","v":57.5},{"t":"2013-10-18T15:16:30","v":55.7},{"t":"2013-10-18T15:16:45","v":57},{"t":"2013-10-18T15:17:00","v":58},{"t":"2013-10-18T15:17:15","v":56},{"t":"2013-10-18T15:17:30","v":57.5},{"t":"2013-10-18T15:17:45","v":56},{"t":"2013-10-18T15:18:00","v":57},{"t":"2013-10-18T15:18:15","v":55.8},{"t":"2013-10-18T15:18:30","v":57.5},{"t":"2013-10-18T15:18:45","v":56},{"t":"2013-10-18T15:19:00","v":58},{"t":"2013-10-18T15:19:15","v":56.5},{"t":"2013-10-18T15:19:30","v":57.5},{"t":"2013-10-18T15:19:45","v":56},{"t":"2013-10-18T15:20:00","v":57},{"t":"2013-10-18T15:20:15","v":56.5},{"t":"2013-10-18T15:20:30","v":58.5},{"t":"2013-10-18T15:20:45","v":57},{"t":"2013-10-18T15:21:00","v":59},{"t":"2013-10-18T15:21:15","v":60},{"t":"2013-10-18T15:21:30","v":62},{"t":"2013-10-18T15:21:45","v":66},{"t":"2013-10-18T15:22:00","v":71.4},{"t":"2013-10-18T15:22:15","v":79},{"t":"2013-10-18T15:22:30","v":84.2},{"t":"2013-10-18T15:22:45","v":78},{"t":"2013-10-18T15:23:00","v":83},{"t":"2013-10-18T15:23:15","v":72},{"t":"2013-10-18T15:23:30","v":76},{"t":"2013-10-18T15:23:45","v":64.5},{"t":"2013-10-18T15:24:00","v":79},{"t":"2013-10-18T15:24:15","v":72},{"t":"2013-10-18T15:24:30","v":82},{"t":"2013-10-18T15:24:45","v":78},{"t":"2013-10-18T15:25:00","v":85.4},{"t":"2013-10-18T15:25:15","v":80},{"t":"2013-10-18T15:25:30","v":84.5},{"t":"2013-10-18T15:25:45","v":73},{"t":"2013-10-18T15:26:00","v":76.5},{"t":"2013-10-18T15:26:15","v":70},{"t":"2013-10-18T15:26:30","v":65},{"t":"2013-10-18T15:26:45","v":62},{"t":"2013-10-18T15:27:00","v":60},{"t":"2013-10-18T15:27:15","v":58},{"t":"2013-10-18T15:27:30","v":60.5},{"t":"2013-10-18T15:27:45","v":58},{"t":"2013-10-18T15:28:00","v":59}
]},
"mark":{"type":"line","interpolate":"step-after","color":"#3d72b9","strokeWidth":6},
"encoding":{
"x":{"field":"t","type":"temporal","scale":{"domain":[{"year":2013,"month":10,"date":18,"hours":10},{"year":2013,"month":10,"date":18,"hours":15,"minutes":30}]},
"axis":{"orient":"bottom","values":[{"year":2013,"month":10,"date":18,"hours":10},{"year":2013,"month":10,"date":18,"hours":10,"minutes":30},{"year":2013,"month":10,"date":18,"hours":11},{"year":2013,"month":10,"date":18,"hours":11,"minutes":30},{"year":2013,"month":10,"date":18,"hours":12},{"year":2013,"month":10,"date":18,"hours":12,"minutes":30},{"year":2013,"month":10,"date":18,"hours":13},{"year":2013,"month":10,"date":18,"hours":13,"minutes":30},{"year":2013,"month":10,"date":18,"hours":14},{"year":2013,"month":10,"date":18,"hours":14,"minutes":30},{"year":2013,"month":10,"date":18,"hours":15},{"year":2013,"month":10,"date":18,"hours":15,"minutes":30}],"format":"%Y-%m-%d %H:%M:%S","labelAngle":-90,"labelFontSize":52,"labelPadding":45,"labelOffset":10,"labelFlush":false,"labelOverlap":false,"ticks":false,"domain":false,"grid":true,"gridDash":[8,12],"gridColor":"#8a8a8a","gridWidth":2,"title":null}},
"y":{"field":"v","type":"quantitative","scale":{"domain":[0,90],"nice":false,"zero":false},
"axis":{"orient":"left","values":[0,10,20,30,40,50,60,70,80,90],"labelFontSize":54,"labelPadding":32,"labelOffset":8,"ticks":false,"domain":false,"grid":true,"gridDash":[8,12],"gridColor":"#8a8a8a","gridWidth":2,"title":"dBA (corr 0 dB)","titleFontSize":52,"titleX":-182,"titleY":468,"titleAngle":-90,"titleAlign":"center","titleBaseline":"middle"}}
}},
{"data":{"values":[{"t":"2013-10-18T10:00:00","v":0}]},
"mark":{"type":"point","opacity":0},
"encoding":{
"x":{"field":"t","type":"temporal","scale":{"domain":[{"year":2013,"month":10,"date":18,"hours":10},{"year":2013,"month":10,"date":18,"hours":15,"minutes":30}]},
"axis":{"orient":"bottom","values":[{"year":2013,"month":10,"date":18,"hours":10},{"year":2013,"month":10,"date":18,"hours":10,"minutes":30},{"year":2013,"month":10,"date":18,"hours":11},{"year":2013,"month":10,"date":18,"hours":11,"minutes":30},{"year":2013,"month":10,"date":18,"hours":12},{"year":2013,"month":10,"date":18,"hours":12,"minutes":30},{"year":2013,"month":10,"date":18,"hours":13},{"year":2013,"month":10,"date":18,"hours":13,"minutes":30},{"year":2013,"month":10,"date":18,"hours":14},{"year":2013,"month":10,"date":18,"hours":14,"minutes":30},{"year":2013,"month":10,"date":18,"hours":15},{"year":2013,"month":10,"date":18,"hours":15,"minutes":30}],"labels":false,"grid":false,"domain":false,"tickSize":-20,"title":"Project: P2191 Gare Saint Ouen\u00a0 Point: SND.1 *","titleFontSize":65,"titleFontWeight":"bold","titleX":12,"titleY":-1132,"titleAlign":"left","titleBaseline":"alphabetic","titleAngle":0}},
"y":{"field":"v","type":"quantitative","scale":{"domain":[0,90],"nice":false,"zero":false},
"axis":{"orient":"left","values":[0,10,20,30,40,50,60,70,80,90],"labels":false,"grid":false,"domain":false,"tickSize":-20,"title":"Standard 11, Lmax + Leq","titleFontSize":52,"titleX":1030,"titleY":-60,"titleAngle":0,"titleAlign":"right","titleBaseline":"alphabetic"}}
}},
{"data":{"values":[{"t":"2013-10-18T10:00:00","v":0}]},
"mark":{"type":"point","opacity":0},
"encoding":{
"x":{"field":"t","type":"temporal","scale":{"domain":[{"year":2013,"month":10,"date":18,"hours":10},{"year":2013,"month":10,"date":18,"hours":15,"minutes":30}]},
"axis":{"orient":"bottom","values":[{"year":2013,"month":10,"date":18,"hours":10,"minutes":6},{"year":2013,"month":10,"date":18,"hours":10,"minutes":12},{"year":2013,"month":10,"date":18,"hours":10,"minutes":18},{"year":2013,"month":10,"date":18,"hours":10,"minutes":24},{"year":2013,"month":10,"date":18,"hours":10,"minutes":36},{"year":2013,"month":10,"date":18,"hours":10,"minutes":42},{"year":2013,"month":10,"date":18,"hours":10,"minutes":48},{"year":2013,"month":10,"date":18,"hours":10,"minutes":54},{"year":2013,"month":10,"date":18,"hours":11,"minutes":6},{"year":2013,"month":10,"date":18,"hours":11,"minutes":12},{"year":2013,"month":10,"date":18,"hours":11,"minutes":18},{"year":2013,"month":10,"date":18,"hours":11,"minutes":24},{"year":2013,"month":10,"date":18,"hours":11,"minutes":36},{"year":2013,"month":10,"date":18,"hours":11,"minutes":42},{"year":2013,"month":10,"date":18,"hours":11,"minutes":48},{"year":2013,"month":10,"date":18,"hours":11,"minutes":54},{"year":2013,"month":10,"date":18,"hours":12,"minutes":6},{"year":2013,"month":10,"date":18,"hours":12,"minutes":12},{"year":2013,"month":10,"date":18,"hours":12,"minutes":18},{"year":2013,"month":10,"date":18,"hours":12,"minutes":24},{"year":2013,"month":10,"date":18,"hours":12,"minutes":36},{"year":2013,"month":10,"date":18,"hours":12,"minutes":42},{"year":2013,"month":10,"date":18,"hours":12,"minutes":48},{"year":2013,"month":10,"date":18,"hours":12,"minutes":54},{"year":2013,"month":10,"date":18,"hours":13,"minutes":6},{"year":2013,"month":10,"date":18,"hours":13,"minutes":12},{"year":2013,"month":10,"date":18,"hours":13,"minutes":18},{"year":2013,"month":10,"date":18,"hours":13,"minutes":24},{"year":2013,"month":10,"date":18,"hours":13,"minutes":36},{"year":2013,"month":10,"date":18,"hours":13,"minutes":42},{"year":2013,"month":10,"date":18,"hours":13,"minutes":48},{"year":2013,"month":10,"date":18,"hours":13,"minutes":54},{"year":2013,"month":10,"date":18,"hours":14,"minutes":6},{"year":2013,"month":10,"date":18,"hours":14,"minutes":12},{"year":2013,"month":10,"date":18,"hours":14,"minutes":18},{"year":2013,"month":10,"date":18,"hours":14,"minutes":24},{"year":2013,"month":10,"date":18,"hours":14,"minutes":36},{"year":2013,"month":10,"date":18,"hours":14,"minutes":42},{"year":2013,"month":10,"date":18,"hours":14,"minutes":48},{"year":2013,"month":10,"date":18,"hours":14,"minutes":54},{"year":2013,"month":10,"date":18,"hours":15,"minutes":6},{"year":2013,"month":10,"date":18,"hours":15,"minutes":12},{"year":2013,"month":10,"date":18,"hours":15,"minutes":18},{"year":2013,"month":10,"date":18,"hours":15,"minutes":24}],"labels":false,"grid":false,"domain":false,"tickSize":-10,"title":["From: 18/10/2013 00:00:00","To:\u00a0\u00a0 18/10/2013 23:59:59"],"titleFontSize":53,"titleLineHeight":39,"titleX":15,"titleY":-1074,"titleAlign":"left","titleBaseline":"alphabetic","titleAngle":0}},
"y":{"field":"v","type":"quantitative","scale":{"domain":[0,90],"nice":false,"zero":false},
"axis":{"orient":"right","values":[0,10,20,30,40,50,60,70,80,90],"labels":false,"grid":false,"domain":false,"tickSize":-20,"title":["Sensor: S50-7508-2\u00a0 Calibrated:\u00a0 30/07/2013","Interval time: 15 seconds","20-95 dBA Slow Eqv.Sound Pres.L, corr 0 dB"],"titleFontSize":54,"titleLineHeight":40,"titleX":-45,"titleY":-140,"titleAngle":0,"titleAlign":"right","titleBaseline":"alphabetic"}}
}},
{"data":{"values":[{"t":"2013-10-18T10:00:00","v":0}]},
"mark":{"type":"point","opacity":0},
"encoding":{
"x":{"field":"t","type":"temporal","scale":{"domain":[{"year":2013,"month":10,"date":18,"hours":10},{"year":2013,"month":10,"date":18,"hours":15,"minutes":30}]},
"axis":{"orient":"top","values":[{"year":2013,"month":10,"date":18,"hours":10},{"year":2013,"month":10,"date":18,"hours":10,"minutes":30},{"year":2013,"month":10,"date":18,"hours":11},{"year":2013,"month":10,"date":18,"hours":11,"minutes":30},{"year":2013,"month":10,"date":18,"hours":12},{"year":2013,"month":10,"date":18,"hours":12,"minutes":30},{"year":2013,"month":10,"date":18,"hours":13},{"year":2013,"month":10,"date":18,"hours":13,"minutes":30},{"year":2013,"month":10,"date":18,"hours":14},{"year":2013,"month":10,"date":18,"hours":14,"minutes":30},{"year":2013,"month":10,"date":18,"hours":15},{"year":2013,"month":10,"date":18,"hours":15,"minutes":30}],"labels":false,"grid":false,"domain":false,"tickSize":-20,"title":"Values from/to:18/10/2013 10:06:30-18/10/2013 15:28:00","titleFontSize":44,"titleX":167,"titleY":-21,"titleAlign":"left","titleBaseline":"alphabetic","titleAngle":0}},
"y":{"field":"v","type":"quantitative","scale":{"domain":[0,90],"nice":false,"zero":false},
"axis":{"orient":"right","labels":false,"grid":false,"domain":false,"ticks":false,"title":"Overloads: 57 >","titleFontSize":43,"titleX":-44,"titleY":-23,"titleAngle":0,"titleAlign":"right","titleBaseline":"alphabetic"}}
}},
{"data":{"values":[{"t":"2013-10-18T10:00:00","v":0}]},
"mark":{"type":"point","opacity":0},
"encoding":{
"x":{"field":"t","type":"temporal","scale":{"domain":[{"year":2013,"month":10,"date":18,"hours":10},{"year":2013,"month":10,"date":18,"hours":15,"minutes":30}]},
"axis":{"orient":"top","values":[{"year":2013,"month":10,"date":18,"hours":10,"minutes":6},{"year":2013,"month":10,"date":18,"hours":10,"minutes":12},{"year":2013,"month":10,"date":18,"hours":10,"minutes":18},{"year":2013,"month":10,"date":18,"hours":10,"minutes":24},{"year":2013,"month":10,"date":18,"hours":10,"minutes":36},{"year":2013,"month":10,"date":18,"hours":10,"minutes":42},{"year":2013,"month":10,"date":18,"hours":10,"minutes":48},{"year":2013,"month":10,"date":18,"hours":10,"minutes":54},{"year":2013,"month":10,"date":18,"hours":11,"minutes":6},{"year":2013,"month":10,"date":18,"hours":11,"minutes":12},{"year":2013,"month":10,"date":18,"hours":11,"minutes":18},{"year":2013,"month":10,"date":18,"hours":11,"minutes":24},{"year":2013,"month":10,"date":18,"hours":11,"minutes":36},{"year":2013,"month":10,"date":18,"hours":11,"minutes":42},{"year":2013,"month":10,"date":18,"hours":11,"minutes":48},{"year":2013,"month":10,"date":18,"hours":11,"minutes":54},{"year":2013,"month":10,"date":18,"hours":12,"minutes":6},{"year":2013,"month":10,"date":18,"hours":12,"minutes":12},{"year":2013,"month":10,"date":18,"hours":12,"minutes":18},{"year":2013,"month":10,"date":18,"hours":12,"minutes":24},{"year":2013,"month":10,"date":18,"hours":12,"minutes":36},{"year":2013,"month":10,"date":18,"hours":12,"minutes":42},{"year":2013,"month":10,"date":18,"hours":12,"minutes":48},{"year":2013,"month":10,"date":18,"hours":12,"minutes":54},{"year":2013,"month":10,"date":18,"hours":13,"minutes":6},{"year":2013,"month":10,"date":18,"hours":13,"minutes":12},{"year":2013,"month":10,"date":18,"hours":13,"minutes":18},{"year":2013,"month":10,"date":18,"hours":13,"minutes":24},{"year":2013,"month":10,"date":18,"hours":13,"minutes":36},{"year":2013,"month":10,"date":18,"hours":13,"minutes":42},{"year":2013,"month":10,"date":18,"hours":13,"minutes":48},{"year":2013,"month":10,"date":18,"hours":13,"minutes":54},{"year":2013,"month":10,"date":18,"hours":14,"minutes":6},{"year":2013,"month":10,"date":18,"hours":14,"minutes":12},{"year":2013,"month":10,"date":18,"hours":14,"minutes":18},{"year":2013,"month":10,"date":18,"hours":14,"minutes":24},{"year":2013,"month":10,"date":18,"hours":14,"minutes":36},{"year":2013,"month":10,"date":18,"hours":14,"minutes":42},{"year":2013,"month":10,"date":18,"hours":14,"minutes":48},{"year":2013,"month":10,"date":18,"hours":14,"minutes":54},{"year":2013,"month":10,"date":18,"hours":15,"minutes":6},{"year":2013,"month":10,"date":18,"hours":15,"minutes":12},{"year":2013,"month":10,"date":18,"hours":15,"minutes":18},{"year":2013,"month":10,"date":18,"hours":15,"minutes":24}],"labels":false,"grid":false,"domain":false,"tickSize":-10,"title":null}},
"y":{"field":"v","type":"quantitative","scale":{"domain":[0,90],"nice":false,"zero":false},"axis":null}
}}
]
}
